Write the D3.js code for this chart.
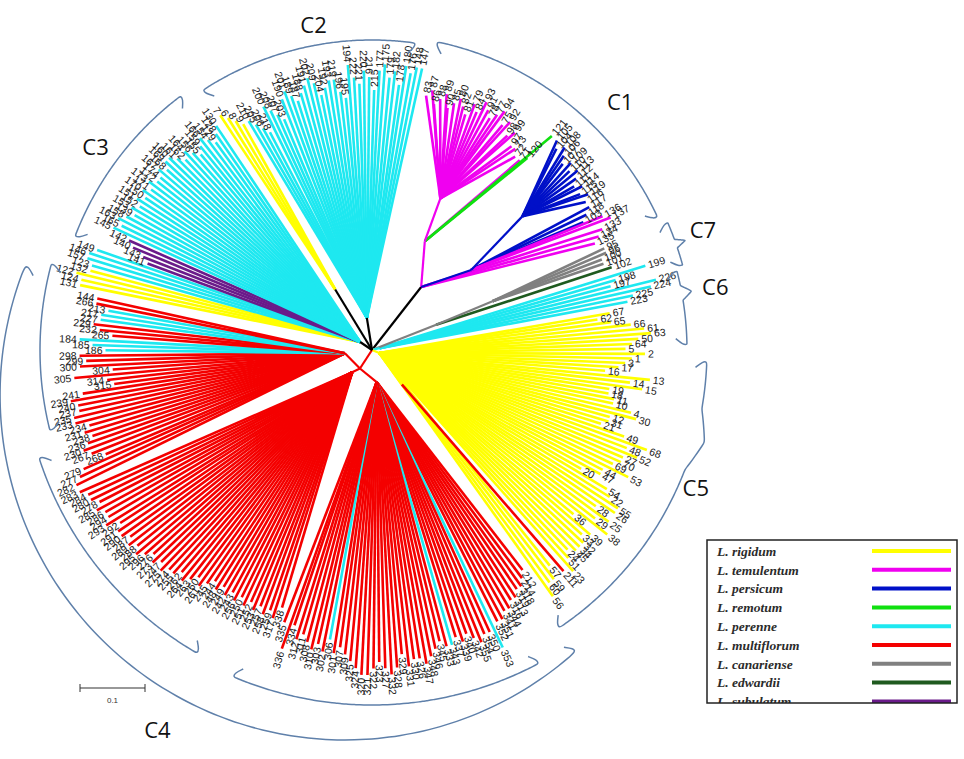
<!DOCTYPE html>
<html>
<head>
<meta charset="utf-8">
<title>Lolium radial tree</title>
<script src="https://cdn.jsdelivr.net/npm/d3@7/dist/d3.min.js"></script>
<style>
  body { margin: 0; background: #fff; }
  svg { display: block; font-family: "Liberation Sans", Arial, sans-serif; }
</style>
</head>
<body>
<div class="diagram"></div>
<script>
// legend order
const speciesKeys = ["rigidum", "temulentum", "persicum", "remotum", "perenne", "multiflorum", "canariense", "edwardii", "subulatum"];
const speciesNames = ["L. rigidum", "L. temulentum", "L. persicum", "L. remotum", "L. perenne", "L. multiflorum", "L. canariense", "L. edwardii", "L. subulatum"];
const speciesColors = ["#ffff00", "#f000f0", "#0010c8", "#10e010", "#1ee8f0", "#f40000", "#808080", "#1f5a1f", "#6a1b8a"];

// internal nodes: id, distance from root, stem species
const innerNodes = [
  ["root", 0, "stem"],
  ["A", 0.123, "stem"],
  ["N1", 0.186, "temulentum"],
  ["N2", 0.256, "temulentum"],
  ["N4", 0.196, "persicum"],
  ["N5", 0.31, "persicum"],
  ["P", 0.106, "canariense"],
  ["G", 0.20, "canariense"],
  ["C6N", 0.012, "perenne"],
  ["Y", 0.012, "rigidum"],
  ["Y2", 0.07, "rigidum"],
  ["R", 0.034, "multiflorum"],
  ["Ra", 0.05, "multiflorum"],
  ["Rb", 0.046, "multiflorum"],
  ["Rc", 0.042, "multiflorum"],
  ["C3N", 0.022, "stem"],
  ["K", 0.109, "stem"],
  ["C2N", 0.05, "stem"]
];

// leaves (accession numbers) clockwise, with distance from root
const c1Temulentum = [83, 87, 86, 88, 89, 90, 85, 80, 82, 81, 79, 84, 93, 91, 78, 77, 94, 75, 92, 98, 99, 97, 73, 72];
const c1TemulentumDist = [0.40, 0.41, 0.39, 0.40, 0.41, 0.39, 0.40, 0.41, 0.40, 0.39, 0.41, 0.40, 0.42, 0.41, 0.40, 0.41, 0.42, 0.40, 0.41, 0.39, 0.40, 0.38, 0.38, 0.37];
const c1TemSingle = [71];
const c1TemSingleDist = [0.37];
const c1Remotum = [120, 121];
const c1RemotumDist = [0.38, 0.43];
const c1Persicum = [105, 104, 108, 106, 107, 109, 110, 113, 112, 111, 114, 115, 119, 116];
const c1PersicumDist = [0.43, 0.42, 0.43, 0.42, 0.41, 0.42, 0.41, 0.42, 0.41, 0.40, 0.41, 0.40, 0.41, 0.40];
const c1PersicumLow = [117, 118, 103];
const c1PersicumLowDist = [0.40, 0.39, 0.38];
const c1TemLowA = [136, 137];
const c1TemLowADist = [0.41, 0.42];
const c1TemLowB = [133, 134, 135];
const c1TemLowBDist = [0.40, 0.39, 0.38];

const c7Canariense = [95, 96, 100, 101];
const c7CanarienseDist = [0.39, 0.39, 0.38, 0.38];
const c7Edwardii = [102];
const c7EdwardiiDist = [0.39];

const c6Perenne = [199, 198, 197, 226, 224, 225, 223];
const c6PerenneDist = [0.44, 0.39, 0.38, 0.45, 0.44, 0.41, 0.40];

const c5RigidumA = [67, 62, 65, 66, 61, 63, 50, 64, 5, 2, 1, 3, 17, 16, 13, 14, 15, 19, 18, 11, 10, 4, 30, 12, 31, 21, 49, 68, 48, 52, 27, 70, 69, 53, 44, 47, 20, 54, 22, 55, 26, 28, 25, 29, 38, 36, 39, 33, 32, 34, 45, 24, 51, 23];
const c5RigidumADist = [0.37, 0.35, 0.37, 0.40, 0.42, 0.43, 0.41, 0.40, 0.39, 0.42, 0.40, 0.39, 0.38, 0.36, 0.43, 0.40, 0.42, 0.37, 0.37, 0.38, 0.38, 0.41, 0.42, 0.38, 0.38, 0.37, 0.41, 0.45, 0.42, 0.44, 0.42, 0.42, 0.41, 0.44, 0.40, 0.40, 0.37, 0.42, 0.43, 0.45, 0.45, 0.42, 0.45, 0.43, 0.46, 0.40, 0.44, 0.43, 0.44, 0.44, 0.44, 0.43, 0.44, 0.46];
const c5Multiflorum = [211];
const c5MultiflorumDist = [0.45];
const c5RigidumB = [57, 59, 60, 56];
const c5RigidumBDist = [0.43, 0.45, 0.45, 0.47];

const c4GroupA = [212, 214, 318, 319, 313, 316, 344, 341, 351, 352, 353, 350, 354, 355, 342, 340, 339, 337, 343, 333, 345, 346, 348, 347, 326, 330, 331, 329, 328, 332, 327, 323, 322, 321, 320, 324, 325, 309, 307, 301, 306, 302, 303, 310, 308, 311, 312, 334, 336, 335];
const c4GroupADist = [0.41, 0.42, 0.43, 0.43, 0.44, 0.44, 0.45, 0.45, 0.46, 0.46, 0.50, 0.47, 0.47, 0.48, 0.47, 0.46, 0.47, 0.46, 0.47, 0.47, 0.46, 0.47, 0.48, 0.49, 0.48, 0.48, 0.49, 0.47, 0.49, 0.50, 0.49, 0.48, 0.49, 0.50, 0.50, 0.49, 0.48, 0.47, 0.46, 0.47, 0.45, 0.47, 0.46, 0.47, 0.46, 0.45, 0.46, 0.44, 0.48, 0.44];
const c4GroupB = [338, 317, 259, 258, 257, 253, 252, 251, 250, 256, 243, 242, 249, 248, 244, 245, 261, 260, 263, 264, 262, 255, 274, 275, 247, 273, 276, 296, 295, 288, 289, 287, 290, 291, 292, 293, 294, 286, 285, 278, 280, 284, 283];
const c4GroupBDist = [0.42, 0.44, 0.43, 0.44, 0.43, 0.44, 0.43, 0.44, 0.43, 0.44, 0.43, 0.44, 0.43, 0.44, 0.43, 0.44, 0.45, 0.44, 0.45, 0.46, 0.45, 0.46, 0.46, 0.47, 0.46, 0.47, 0.46, 0.47, 0.48, 0.47, 0.48, 0.47, 0.48, 0.48, 0.47, 0.49, 0.48, 0.48, 0.49, 0.48, 0.49, 0.49, 0.50];
const c4GroupC = [282, 277, 279, 268, 267, 230, 236, 238, 231, 234, 233, 235, 237, 240, 239, 241, 315, 314, 305, 304, 300, 299, 298, 186, 185, 184, 265, 232, 229, 227, 217, 213, 266, 144];
const c4GroupCDist = [0.50, 0.49, 0.48, 0.44, 0.46, 0.47, 0.46, 0.45, 0.46, 0.45, 0.47, 0.47, 0.46, 0.46, 0.47, 0.45, 0.40, 0.41, 0.46, 0.40, 0.45, 0.44, 0.45, 0.41, 0.43, 0.45, 0.40, 0.42, 0.43, 0.42, 0.42, 0.41, 0.43, 0.43];
const c4Perenne = [353, 343, 306, 186, 185, 184, 227, 217, 213];

const c3Rigidum = [131, 124, 122, 132];
const c3RigidumDist = [0.46, 0.46, 0.47, 0.45];
const c3PerenneA = [123, 157, 146, 149];
const c3PerenneADist = [0.45, 0.46, 0.46, 0.45];
const c3Subulatum = [141, 143, 140, 142];
const c3SubulatumDist = [0.37, 0.38, 0.40, 0.41];
const c3PerenneB = [145, 165, 163, 158, 139, 153, 152, 151, 150, 170, 171, 173, 172, 174, 167, 168, 169, 160, 161, 162, 164, 156, 155, 159, 166, 154, 129, 128, 130];
const c3PerenneBDist = [0.44, 0.43, 0.44, 0.43, 0.42, 0.43, 0.42, 0.43, 0.42, 0.43, 0.42, 0.43, 0.42, 0.42, 0.43, 0.42, 0.43, 0.43, 0.42, 0.41, 0.42, 0.41, 0.40, 0.41, 0.42, 0.41, 0.40, 0.41, 0.42];

const c2Rigidum = [7, 6, 8, 9];
const c2RigidumDist = [0.43, 0.42, 0.41, 0.40];
const c2Perenne = [210, 205, 206, 218, 200, 208, 207, 203, 190, 201, 189, 187, 188, 191, 202, 209, 204, 192, 193, 219, 196, 195, 194, 222, 221, 220, 216, 215, 177, 175, 179, 182, 178, 180, 176, 148, 147];
const c2PerenneDist = [0.40, 0.39, 0.38, 0.37, 0.41, 0.40, 0.39, 0.38, 0.41, 0.42, 0.41, 0.40, 0.41, 0.42, 0.43, 0.42, 0.40, 0.41, 0.42, 0.42, 0.40, 0.39, 0.44, 0.42, 0.41, 0.43, 0.42, 0.40, 0.43, 0.44, 0.42, 0.43, 0.41, 0.44, 0.43, 0.44, 0.44];

// clade brackets: name, start/end angle (deg, clockwise from top), radius px, brace peak, centre shift
const cladeArcs = [
  { name: "C1", a0: 12, a1: 65, r: 315, label: [45, 351] },
  { name: "C7", a0: 66.7, a1: 74.7, r: 322, peak: 0.5, label: [70.1, 352] },
  { name: "C6", a0: 75.5, a1: 89, r: 315, peak: 0.3, label: [79.6, 349] },
  { name: "C5", a0: 92, a1: 146, r: 335, peak: 0.25, label: [113.1, 352] },
  { name: "C4", a0: 138, a1: 292, r: 345, dx: -27, dy: 45, label: [209.4, 437] },
  { name: "", a0: 256, a1: 285, r: 332 },
  { name: "", a0: 210, a1: 252, r: 350 },
  { name: "", a0: 152, a1: 203, r: 355 },
  { name: "C3", a0: 291, a1: 323, r: 318, label: [306.3, 343] },
  { name: "C2", a0: 327, a1: 368, r: 310, label: [349.8, 330] }
];

const scaleBarValue = 0.1;

function polar(a, r) {
  let t = a * Math.PI / 180;
  return [r * Math.sin(t), -r * Math.cos(t)];
}

class RadialTree {
  constructor({ baseElement, width, height, cx, cy, unitPx, startAngle }) {
    this.width = width;
    this.height = height;
    this.cx = cx;
    this.cy = cy;
    this.radius = d3.scaleLinear().domain([0, 0.1]).range([0, unitPx]);
    this.color = d3.scaleOrdinal(speciesKeys, speciesColors);
    this.startAngle = startAngle;
    this.svg = baseElement.append("svg").attr("width", width).attr("height", height);
    this.buildTree();
    this.drawTree();
    this.drawBrackets();
    this.drawLegend();
    this.drawScaleBar();
  }

  buildTree() {
    let innerMap = new Map(innerNodes.map(d => [d[0], d]));
    let inner = (id, kids) => {
      let d = innerMap.get(id);
      return { name: id, dist: d[1], species: d[2], children: kids.flat() };
    };
    let tips = (clade, labels, dists, species) => labels.map((label, i) => ({
      name: String(label), dist: dists[i], clade: clade,
      species: typeof species === "function" ? species(label) : species
    }));
    let c4Species = label => c4Perenne.includes(label) ? "perenne" : "multiflorum";

    let data = inner("root", [
      inner("A", [
        inner("N1", [
          inner("N2", tips("C1", c1Temulentum, c1TemulentumDist, "temulentum")),
          tips("C1", c1TemSingle, c1TemSingleDist, "temulentum"),
          tips("C1", c1Remotum, c1RemotumDist, "remotum")
        ]),
        inner("N4", [
          inner("N5", tips("C1", c1Persicum, c1PersicumDist, "persicum")),
          tips("C1", c1PersicumLow, c1PersicumLowDist, "persicum"),
          tips("C1", c1TemLowA, c1TemLowADist, "temulentum")
        ]),
        tips("C1", c1TemLowB, c1TemLowBDist, "temulentum")
      ]),
      inner("P", [
        inner("G", tips("C7", c7Canariense, c7CanarienseDist, "canariense")),
        tips("C7", c7Edwardii, c7EdwardiiDist, "edwardii")
      ]),
      inner("C6N", tips("C6", c6Perenne, c6PerenneDist, "perenne")),
      inner("Y", [
        tips("C5", c5RigidumA, c5RigidumADist, "rigidum"),
        inner("Y2", tips("C5", c5Multiflorum, c5MultiflorumDist, "multiflorum")),
        tips("C5", c5RigidumB, c5RigidumBDist, "rigidum")
      ]),
      inner("R", [
        inner("Ra", tips("C4", c4GroupA, c4GroupADist, c4Species)),
        inner("Rb", tips("C4", c4GroupB, c4GroupBDist, c4Species)),
        inner("Rc", tips("C4", c4GroupC, c4GroupCDist, c4Species))
      ]),
      inner("C3N", [
        tips("C3", c3Rigidum, c3RigidumDist, "rigidum"),
        tips("C3", c3PerenneA, c3PerenneADist, "perenne"),
        tips("C3", c3Subulatum, c3SubulatumDist, "subulatum"),
        tips("C3", c3PerenneB, c3PerenneBDist, "perenne")
      ]),
      inner("K", tips("C2", c2Rigidum, c2RigidumDist, "rigidum")),
      inner("C2N", tips("C2", c2Perenne, c2PerenneDist, "perenne"))
    ]);

    let root = d3.hierarchy(data);
    d3.cluster().size([360, 1])
      .separation((a, b) => a.parent === b.parent ? 1 : (a.data.clade === b.data.clade ? 1.3 : 1.8))(root);
    let shift = this.startAngle - root.leaves()[0].x;
    root.eachAfter(d => { if (d.children) d.x = d3.mean(d.leaves(), l => l.x); });
    let self = this;
    root.each(d => {
      d.angle = d.x + shift;
      let p = polar(d.angle, self.radius(d.data.dist));
      d.px = p[0];
      d.py = p[1];
    });
    this.root = root;
  }

  stroke(species) {
    return species === "stem" ? "#000" : this.color(species);
  }

  drawTree() {
    let self = this;
    let g = this.svg.append("g").attr("transform", `translate(${this.cx},${this.cy})`);
    let links = this.root.links();
    let leafLinks = links.filter(l => !l.target.children);
    let stemLinks = links.filter(l => l.target.children);

    g.append("g").attr("class", "leaf-links")
      .selectAll("line").data(leafLinks).join("line")
      .attr("x1", d => d.source.px).attr("y1", d => d.source.py)
      .attr("x2", d => d.target.px).attr("y2", d => d.target.py)
      .attr("stroke", d => self.stroke(d.target.data.species))
      .attr("stroke-width", 2.6);

    g.append("g").attr("class", "stem-links")
      .selectAll("line").data(stemLinks).join("line")
      .attr("x1", d => d.source.px).attr("y1", d => d.source.py)
      .attr("x2", d => d.target.px).attr("y2", d => d.target.py)
      .attr("stroke", d => self.stroke(d.target.data.species))
      .attr("stroke-width", 2.2);

    g.append("g").attr("class", "leaf-labels")
      .selectAll("text").data(this.root.leaves()).join("text")
      .attr("transform", d => {
        let a = ((d.angle % 360) + 360) % 360;
        let rr = self.radius(d.data.dist) + 3;
        return `rotate(${a - 90}) translate(${rr},0)` + (a > 180 ? " rotate(180)" : "");
      })
      .attr("text-anchor", d => (((d.angle % 360) + 360) % 360) > 180 ? "end" : "start")
      .attr("dy", "0.35em")
      .attr("font-size", 10.5)
      .attr("fill", "#1a1a1a")
      .text(d => d.data.name);
  }

  drawBrackets() {
    let self = this;
    let g = this.svg.append("g").attr("class", "clades");
    let line = d3.line().curve(d3.curveBasis);
    cladeArcs.forEach(b => {
      let ox = self.cx + (b.dx || 0), oy = self.cy + (b.dy || 0);
      let hook = 360 / b.r;
      let pts = [[b.a0 + hook, b.r - 11], [b.a0, b.r - 4]];
      let n = 80;
      for (let i = 0; i <= n; i++) {
        let t = i / n;
        let bump = b.peak !== undefined ? 10 * Math.max(0, 1 - Math.abs(t - b.peak) / 0.1) : 0;
        pts.push([b.a0 + (b.a1 - b.a0) * t, b.r + bump]);
      }
      pts.push([b.a1, b.r - 4], [b.a1 - hook, b.r - 11]);
      let xy = pts.map(p => { let q = polar(p[0], p[1]); return [q[0] + ox, q[1] + oy]; });
      g.append("path").attr("d", line(xy))
        .attr("fill", "none").attr("stroke", "#5f80aa").attr("stroke-width", 1.5);
      if (b.name) {
        let q = polar(b.label[0], b.label[1]);
        g.append("text")
          .attr("x", self.cx + q[0]).attr("y", self.cy + q[1])
          .attr("text-anchor", "middle").attr("dy", "0.35em")
          .attr("font-size", 22).attr("fill", "#111")
          .attr("font-family", "'Open Sans', 'Liberation Sans', sans-serif")
          .text(b.name);
      }
    });
  }

  drawLegend() {
    let box = { x: 707, y: 540, w: 250, h: 163 };
    let g = this.svg.append("g").attr("class", "legend");
    this.svg.append("defs").append("clipPath").attr("id", "legend-clip")
      .append("rect").attr("x", box.x).attr("y", box.y).attr("width", box.w).attr("height", box.h);
    let rows = d3.scaleLinear().domain([0, 1]).range([box.y + 11, box.y + 29.8]);
    let items = g.append("g").attr("clip-path", "url(#legend-clip)")
      .selectAll("g").data(speciesKeys).join("g")
      .attr("transform", (d, i) => `translate(0,${rows(i)})`);
    items.append("text")
      .attr("x", box.x + 10).attr("dy", "0.35em")
      .attr("font-family", "'Liberation Serif', 'Times New Roman', serif")
      .attr("font-style", "italic").attr("font-weight", "bold")
      .attr("font-size", 13.5).attr("fill", "#2b2b2b")
      .text((d, i) => speciesNames[i]);
    items.append("line")
      .attr("x1", box.x + 165).attr("x2", box.x + 244)
      .attr("stroke", d => this.color(d)).attr("stroke-width", 4);
    g.append("rect").attr("x", box.x).attr("y", box.y).attr("width", box.w).attr("height", box.h)
      .attr("fill", "none").attr("stroke", "#222").attr("stroke-width", 1.5);
  }

  drawScaleBar() {
    let x0 = 80, y0 = 688;
    let len = this.radius(scaleBarValue);
    let g = this.svg.append("g").attr("class", "scale-bar").attr("stroke", "#333");
    g.append("line").attr("x1", x0).attr("x2", x0 + len).attr("y1", y0).attr("y2", y0).attr("stroke-width", 1.2);
    g.append("line").attr("x1", x0).attr("x2", x0).attr("y1", y0 - 4).attr("y2", y0 + 4);
    g.append("line").attr("x1", x0 + len).attr("x2", x0 + len).attr("y1", y0 - 4).attr("y2", y0 + 4);
    this.svg.append("text").attr("x", x0 + len / 2).attr("y", y0 + 15)
      .attr("text-anchor", "middle").attr("font-size", 8).attr("fill", "#333")
      .text(scaleBarValue);
  }
}

let config = {
  baseElement: d3.select(".diagram"),
  width: 964,
  height: 759,
  cx: 372,
  cy: 350,
  unitPx: 65,
  startAngle: 12
};
let radialTree = new RadialTree(config);
</script>
</body>
</html>
